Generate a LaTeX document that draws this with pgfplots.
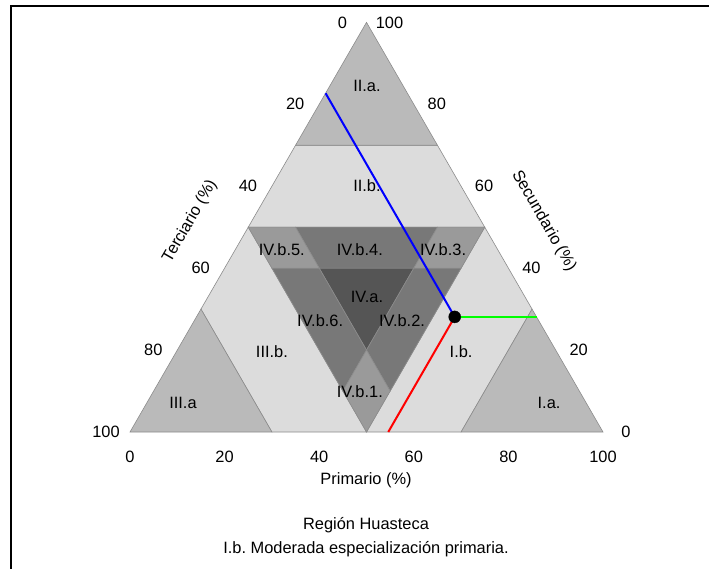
\documentclass[border=0pt]{standalone}
\usepackage{fontspec}
\setmainfont{Liberation Sans}
\usepackage{pgfplots}
\pgfplotsset{compat=1.18}
\definecolor{lightg}{HTML}{DCDCDC}
\definecolor{cornerg}{HTML}{BABABA}
\definecolor{rhombg}{HTML}{9A9A9A}
\definecolor{trapg}{HTML}{787878}
\definecolor{centg}{HTML}{555555}
\definecolor{edgeg}{HTML}{8C8C8C}
\definecolor{pgreen}{HTML}{00FF00}
\begin{document}
\frenchspacing
\begin{tikzpicture}[font=\fontsize{16.4bp}{19.7bp}\selectfont]
\useasboundingbox (0,0) rectangle (709bp,569bp);
\draw[line width=1.5bp] (11bp,0) -- (11bp,563bp) -- (709bp,563bp);
\begin{axis}[at={(130bp,137bp)}, anchor=origin, x=4.73bp, y=4.73bp,
  xmin=0, xmax=100, ymin=0, ymax=86.6025, hide axis, clip=false]
% light bands
\addplot[fill=lightg, draw=edgeg, line width=0.6bp] coordinates {(25,43.301) (75,43.301) (65,60.622) (35,60.622)} -- cycle;
\addplot[fill=lightg, draw=edgeg, line width=0.6bp] coordinates {(50,0) (70,0) (85,25.981) (75,43.301)} -- cycle;
\addplot[fill=lightg, draw=edgeg, line width=0.6bp] coordinates {(30,0) (50,0) (25,43.301) (15,25.981)} -- cycle;
% corner triangles
\addplot[fill=cornerg, draw=edgeg, line width=0.6bp] coordinates {(35,60.622) (65,60.622) (50,86.6025)} -- cycle;
\addplot[fill=cornerg, draw=edgeg, line width=0.6bp] coordinates {(70,0) (100,0) (85,25.981)} -- cycle;
\addplot[fill=cornerg, draw=edgeg, line width=0.6bp] coordinates {(0,0) (30,0) (15,25.981)} -- cycle;
% IV region
\addplot[fill=centg, draw=edgeg, line width=0.6bp] coordinates {(40,34.641) (60,34.641) (50,17.321)} -- cycle;
\addplot[fill=trapg, draw=edgeg, line width=0.6bp] coordinates {(35,43.301) (65,43.301) (60,34.641) (40,34.641)} -- cycle;
\addplot[fill=trapg, draw=edgeg, line width=0.6bp] coordinates {(30,34.641) (40,34.641) (50,17.321) (45,8.660)} -- cycle;
\addplot[fill=trapg, draw=edgeg, line width=0.6bp] coordinates {(60,34.641) (70,34.641) (55,8.660) (50,17.321)} -- cycle;
\addplot[fill=rhombg, draw=edgeg, line width=0.6bp] coordinates {(25,43.301) (35,43.301) (40,34.641) (30,34.641)} -- cycle;
\addplot[fill=rhombg, draw=edgeg, line width=0.6bp] coordinates {(65,43.301) (75,43.301) (70,34.641) (60,34.641)} -- cycle;
\addplot[fill=rhombg, draw=edgeg, line width=0.6bp] coordinates {(50,0) (45,8.660) (50,17.321) (55,8.660)} -- cycle;
% region labels
\node at (axis cs:50.1,73.15) {II.a.};
\node at (axis cs:50.1,52.0) {II.b.};
\node at (axis cs:32.1,38.5) {IV.b.5.};
\node at (axis cs:48.6,38.5) {IV.b.4.};
\node at (axis cs:66.2,38.5) {IV.b.3.};
\node at (axis cs:50.1,28.5) {IV.a.};
\node at (axis cs:40.2,23.5) {IV.b.6.};
\node at (axis cs:57.5,23.5) {IV.b.2.};
\node at (axis cs:48.6,8.5) {IV.b.1.};
\node at (axis cs:30.0,16.9) {III.b.};
\node at (axis cs:11.2,6.1) {III.a};
\node at (axis cs:70.0,16.9) {I.b.};
\node at (axis cs:88.6,6.1) {I.a.};
% observation lines and point
\addplot[red, line width=2bp] coordinates {(68.65,24.335) (54.6,0)};
\addplot[blue, line width=2bp] coordinates {(68.65,24.335) (41.35,71.62)};
\addplot[pgreen, line width=2bp] coordinates {(68.65,24.335) (85.95,24.335)};
\addplot[only marks, mark=*, mark size=6bp, black] coordinates {(68.65,24.335)};
% bottom ticks (Primario)
\node at (axis cs:0,-5.29) {0};
\node at (axis cs:20,-5.29) {20};
\node at (axis cs:40,-5.29) {40};
\node at (axis cs:60,-5.29) {60};
\node at (axis cs:80,-5.29) {80};
\node at (axis cs:100,-5.29) {100};
% right ticks (Secundario)
\node at (axis cs:104.86,0) {0};
\node at (axis cs:94.86,17.321) {20};
\node at (axis cs:84.86,34.641) {40};
\node at (axis cs:74.86,51.962) {60};
\node at (axis cs:64.86,69.282) {80};
\node at (axis cs:54.86,86.6025) {100};
% left ticks (Terciario)
\node at (axis cs:-5.07,0) {100};
\node at (axis cs:4.93,17.321) {80};
\node at (axis cs:14.93,34.641) {60};
\node at (axis cs:24.93,51.962) {40};
\node at (axis cs:34.93,69.282) {20};
\node at (axis cs:44.93,86.6025) {0};
% axis titles
\node at (axis cs:49.9,-10.15) {Primario (\%)};
\node[rotate=-60] at (axis cs:87.5,44.6) {Secundario (\%)};
\node[rotate=60] at (axis cs:12.7,44.6) {Terciario (\%)};
% captions
\node at (axis cs:49.9,-19.66) {Región Huasteca};
\node at (axis cs:49.9,-24.74) {I.b. Moderada especialización primaria.};
\end{axis}
\end{tikzpicture}
\end{document}
